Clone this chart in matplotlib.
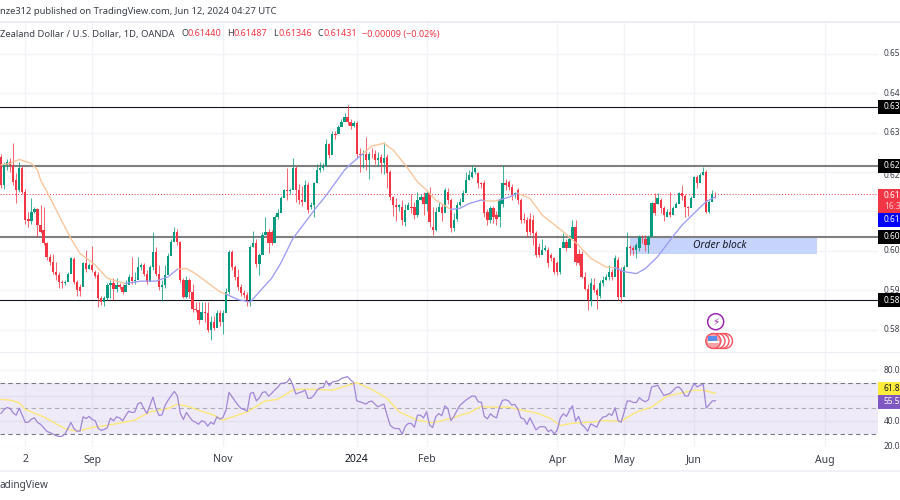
import matplotlib
matplotlib.use("Agg")
import matplotlib.pyplot as plt
from matplotlib.patches import Rectangle, Circle

plt.rcParams['font.family'] = ['Noto Sans', 'DejaVu Sans']

opens = [
.6239,.6167,.6218,.6226,.6218,.6180,.6154,.6209,.6150,.6080,
.6076,.6099,.6105,.6065,.6052,.6019,.5983,.5972,.5947,.5938,
.5921,.5917,.5921,.5942,.5978,.5921,.5909,.5909,.5968,.5955,
.5965,.5947,.5938,.5879,.5870,.5879,.5913,.5917,.5902,.5914,
.5909,.5896,.5913,.5934,.5924,.5925,.5959,.5965,.5942,.5921,
.5959,.5998,.5942,.5909,.5913,.5938,.5987,.6023,.6047,.6023,
.5925,.5883,.5925,.5896,.5852,.5849,.5824,.5845,.5841,.5798,
.5820,.5805,.5842,.5820,.5842,.5896,.5998,.5959,.5934,.5909,
.5892,.5887,.5875,.6009,.6020,.5966,.5989,.6040,.6048,.6048,
.6020,.6086,.6095,.6133,.6154,.6152,.6154,.6209,.6154,.6129,
.6125,.6167,.6112,.6116,.6171,.6205,.6209,.6216,.6271,.6243,
.6296,.6296,.6315,.6328,.6341,.6328,.6317,.6325,.6247,.6243,
.6246,.6230,.6247,.6247,.6230,.6239,.6222,.6239,.6201,.6137,
.6116,.6112,.6112,.6074,.6103,.6112,.6112,.6091,.6129,.6137,
.6120,.6146,.6061,.6053,.6099,.6112,.6095,.6150,.6129,.6057,
.6082,.6116,.6125,.6146,.6180,.6188,.6201,.6197,.6171,.6171,
.6099,.6078,.6108,.6091,.6086,.6120,.6173,.6175,.6163,.6141,
.6154,.6129,.6082,.6078,.6082,.6078,.6044,.6009,.5989,.6003,
.6003,.5989,.5981,.5968,.5947,.6006,.6023,.6006,.6031,.6061,
.5993,.5993,.5934,.5904,.5875,.5913,.5900,.5885,.5917,.5925,
.5934,.5947,.5934,.5976,.5951,.5883,.5959,.6009,.6006,.6002,
.6006,.6036,.6031,.6014,.6036,.6122,.6120,.6129,.6108,.6086,
.6099,.6091,.6108,.6120,.6146,.6139,.6112,.6108,.6133,.6188,
.6171,.6192,.6201,.6099,.6125,.6144]

closes = [
.6167,.6218,.6226,.6218,.6175,.6154,.6209,.6150,.6078,.6076,
.6099,.6105,.6065,.6048,.6019,.5983,.5972,.5947,.5938,.5921,
.5917,.5921,.5942,.5981,.5921,.5900,.5898,.5968,.5955,.5965,
.5951,.5936,.5879,.5870,.5879,.5913,.5917,.5902,.5914,.5909,
.5896,.5913,.5934,.5924,.5925,.5959,.5965,.5942,.5921,.5959,
.5998,.5942,.5909,.5913,.5938,.5987,.6023,.6047,.6023,.5925,
.5883,.5925,.5896,.5852,.5849,.5824,.5845,.5841,.5798,.5820,
.5805,.5842,.5820,.5842,.5896,.5998,.5959,.5934,.5909,.5892,
.5887,.5875,.6009,.6020,.5966,.5989,.6040,.6048,.6020,.6020,
.6086,.6095,.6133,.6154,.6152,.6154,.6209,.6154,.6129,.6125,
.6167,.6103,.6116,.6171,.6205,.6209,.6216,.6271,.6243,.6296,
.6295,.6315,.6328,.6341,.6328,.6317,.6325,.6247,.6243,.6246,
.6230,.6247,.6246,.6230,.6235,.6222,.6235,.6197,.6137,.6116,
.6112,.6116,.6078,.6103,.6116,.6108,.6091,.6129,.6137,.6120,
.6146,.6074,.6053,.6099,.6112,.6095,.6154,.6129,.6057,.6078,
.6116,.6125,.6146,.6180,.6192,.6201,.6209,.6171,.6170,.6095,
.6078,.6108,.6086,.6082,.6129,.6173,.6167,.6163,.6141,.6146,
.6129,.6078,.6078,.6048,.6048,.6044,.5989,.5989,.6003,.6006,
.5968,.5981,.5947,.5947,.6006,.6023,.6006,.6031,.6061,.5972,
.5970,.5934,.5904,.5875,.5917,.5900,.5887,.5917,.5925,.5934,
.5947,.5934,.5981,.5883,.5883,.5959,.6009,.6007,.6002,.6014,
.6036,.6034,.6014,.6036,.6122,.6095,.6133,.6108,.6091,.6099,
.6091,.6108,.6120,.6146,.6139,.6112,.6108,.6133,.6188,.6171,
.6192,.6201,.6099,.6125,.6144,.6143]

highs = [
.6247,.6225,.6232,.6235,.6273,.6197,.6225,.6215,.6158,.6099,
.6133,.6112,.6108,.6116,.6112,.6023,.5993,.5993,.5972,.5945,
.5925,.5925,.5945,.5985,.5985,.5925,.5915,.5972,.6003,.5970,
.6012,.5950,.5945,.5885,.5885,.5917,.5925,.5930,.5930,.5917,
.5915,.5925,.5940,.5985,.5945,.5985,.5970,.5970,.5950,.5965,
.6048,.6010,.5965,.5925,.5965,.5995,.6030,.6060,.6055,.6025,
.5930,.5935,.5930,.5915,.5870,.5870,.5870,.5870,.5870,.5835,
.5835,.5850,.5850,.5850,.5905,.6002,.6002,.5965,.5955,.5915,
.5900,.5895,.6015,.6050,.6030,.5995,.6048,.6085,.6055,.6052,
.6092,.6105,.6140,.6158,.6209,.6160,.6235,.6215,.6170,.6165,
.6180,.6175,.6125,.6175,.6220,.6225,.6222,.6283,.6275,.6305,
.6305,.6320,.6335,.6350,.6370,.6335,.6330,.6330,.6262,.6255,
.6290,.6250,.6260,.6255,.6250,.6245,.6277,.6245,.6205,.6140,
.6135,.6120,.6130,.6120,.6125,.6145,.6125,.6150,.6145,.6150,
.6152,.6163,.6110,.6110,.6125,.6120,.6160,.6160,.6135,.6095,
.6125,.6135,.6155,.6200,.6205,.6218,.6213,.6200,.6175,.6180,
.6105,.6115,.6115,.6100,.6135,.6218,.6182,.6180,.6170,.6150,
.6160,.6135,.6095,.6085,.6095,.6092,.6050,.6020,.6030,.6015,
.6010,.5995,.5985,.5975,.5960,.6044,.6030,.6040,.6078,.6078,
.6005,.6000,.5945,.5915,.5930,.5932,.5905,.5925,.5935,.5940,
.5965,.5955,.5990,.5985,.5960,.5965,.6048,.6015,.6012,.6020,
.6040,.6040,.6040,.6040,.6125,.6146,.6146,.6135,.6115,.6105,
.6150,.6115,.6125,.6150,.6167,.6145,.6115,.6140,.6190,.6192,
.6198,.6213,.6205,.6130,.6155,.6149]

lows = [
.6160,.6158,.6205,.6200,.6168,.6122,.6150,.6145,.6069,.6060,
.6069,.6095,.6036,.6044,.6014,.5976,.5965,.5942,.5925,.5905,
.5905,.5912,.5935,.5960,.5915,.5885,.5885,.5955,.5945,.5955,
.5945,.5930,.5858,.5862,.5860,.5875,.5880,.5875,.5895,.5902,
.5890,.5900,.5925,.5915,.5915,.5950,.5950,.5935,.5915,.5950,
.5950,.5935,.5900,.5872,.5905,.5980,.6018,.6040,.6015,.5920,
.5880,.5880,.5880,.5845,.5845,.5815,.5830,.5820,.5795,.5773,
.5800,.5835,.5810,.5788,.5885,.5890,.5950,.5925,.5900,.5885,
.5880,.5860,.5860,.6010,.5960,.5938,.6030,.6040,.5995,.6015,
.6080,.6080,.6125,.6145,.6130,.6145,.6195,.6125,.6120,.6115,
.6135,.6095,.6105,.6085,.6195,.6200,.6205,.6260,.6235,.6285,
.6285,.6305,.6320,.6335,.6320,.6310,.6315,.6235,.6200,.6210,
.6205,.6182,.6235,.6220,.6215,.6197,.6195,.6160,.6130,.6088,
.6075,.6100,.6065,.6063,.6105,.6095,.6080,.6085,.6130,.6090,
.6100,.6060,.6040,.6050,.6100,.6075,.6145,.6120,.6048,.6050,
.6075,.6115,.6135,.6170,.6180,.6185,.6195,.6160,.6160,.6085,
.6065,.6070,.6070,.6065,.6060,.6110,.6155,.6155,.6130,.6135,
.6120,.6070,.6070,.6035,.6040,.6014,.5985,.5985,.5995,.6000,
.5959,.5975,.5940,.5938,.5940,.6015,.6000,.6025,.6050,.5965,
.5965,.5930,.5900,.5850,.5860,.5895,.5851,.5880,.5910,.5925,
.5925,.5925,.5975,.5875,.5870,.5950,.6000,.5990,.5990,.5981,
.6000,.6020,.5999,.5995,.6115,.6090,.6120,.6095,.6075,.6090,
.6085,.6095,.6110,.6135,.6130,.6085,.6088,.6125,.6175,.6160,
.6175,.6192,.6095,.6095,.6130,.6135]

# moving average per coloured stretch (bar number, price)
ma_above = [  # orange stretches
 ([0,3,6,10,12,13,16,19,23,26,29,31,35,38,41],
  [.6218,.6222,.6232,.6222,.6205,.6180,.6137,.6091,.6031,.5993,.5976,.5964,.5930,.5923,.5917]),
 ([58,61,64,69,72,74],[.5953,.5955,.5942,.5913,.5896,.5890]),
 ([119,122,126,129,133,137,140,143,148],[.6246,.6266,.6273,.6256,.6218,.6175,.6154,.6129,.6105]),
 ([159,162,164],[.6127,.6126,.6129]),
 ([170,174,178,185,190,194,199,202],[.6146,.6133,.6091,.6048,.6014,.5981,.5959,.5957]),
]
ma_below = [  # blue stretches
 ([41,46,51,55,58],[.5917,.5923,.5923,.5934,.5953]),
 ([74,78,82,85,89,92,96,101,103,107,113,115,119],
  [.5890,.5876,.5870,.5896,.5930,.5968,.6031,.6082,.6103,.6141,.6205,.6220,.6246]),
 ([148,151,154,158,159],[.6105,.6108,.6120,.6129,.6127]),
 ([164,167,170],[.6129,.6136,.6146]),
 ([202,205,209,212,216,221,224,229,232,235],[.5957,.5947,.5942,.5955,.5985,.6036,.6065,.6103,.6125,.6137]),
]

rsi = [
46.0,49.1,50.7,49.9,46.5,44.7,50.2,44.7,39.0,39.2,
41.6,42.6,39.0,37.6,35.0,32.2,31.1,30.1,28.8,28.0,
28.2,29.8,34.2,39.0,34.2,32.2,32.2,43.4,42.1,43.7,
41.3,40.3,34.2,32.9,33.5,35.0,42.4,40.3,43.4,42.6,
40.3,44.2,47.8,46.8,47.1,53.6,54.6,49.9,46.0,52.5,
58.8,49.9,44.4,45.0,52.5,56.5,59.9,63.3,59.9,46.0,
41.3,46.8,43.4,40.3,39.2,37.6,40.3,39.5,36.1,39.2,
37.6,43.4,41.6,42.9,48.6,62.5,59.1,55.7,52.5,49.9,
49.1,47.8,61.7,62.5,55.9,58.3,62.5,63.0,59.6,61.7,
64.3,66.4,69.5,69.8,70.3,73.5,68.2,61.2,62.2,63.0,
64.3,57.8,58.0,60.4,64.3,66.1,66.4,71.6,67.7,70.6,
71.1,71.6,73.5,74.2,74.8,72.2,70.3,55.9,55.2,54.4,
53.3,55.2,55.7,53.3,51.2,52.5,53.3,44.7,36.9,34.8,
34.2,34.2,29.8,36.1,38.2,38.2,35.3,44.7,44.7,42.6,
47.3,36.9,35.0,43.4,46.0,44.2,52.0,49.9,
40.5,43.7,48.4,52.4,54.5,56.6,58.1,59.7,59.5,55.2,
54.7,43.7,41.8,45.8,43.7,42.6,51.0,56.3,56.8,55.8,
52.6,53.1,49.7,42.6,41.8,37.4,42.6,37.9,33.2,35.3,
35.8,35.5,31.8,33.2,30.0,33.2,42.6,45.8,43.7,48.4,
52.1,40.0,43.7,37.4,35.3,32.1,37.9,36.6,35.3,40.5,
43.2,43.7,45.8,44.5,50.5,40.5,39.2,47.1,55.8,55.8,
54.7,54.5,58.4,56.3,55.2,56.8,66.8,67.3,68.1,64.2,
60.2,60.8,61.6,63.7,66.3,66.8,64.2,59.7,59.7,64.7,
69.5,66.8,68.1,68.7,50.3,53.1,55.8,56.0]

rsi_ma_bars = [0,3,6,8,14,21,25,30,37,44,49,55,58,62,65,70,73,81,87,91,96,99,109,117,122,127,131,137,142,148,
               151,154,158,160,167,173,177,181,184,188,194,198,204,209,214,219,223,228,231,235]
rsi_ma_vals = [57.0,56.5,54.4,49.1,43.4,34.2,32.2,35.0,37.6,40.8,47.3,49.9,53.3,51.2,48.6,44.7,40.8,47.3,55.9,57.0,
               64.3,65.1,64.3,70.1,64.8,57.8,47.3,40.8,38.7,42.1,
               44.5,46.6,51.6,51.0,51.0,47.9,45.8,41.8,36.6,38.4,39.2,40.5,40.0,47.1,51.0,59.5,61.6,64.2,64.2,61.8]

price_ticks = [0.65, 0.64, 0.63, 0.62, 0.61, 0.60, 0.59, 0.58]
price_tick_labels = ["0.65", "0.64", "0.63", "0.62", "", "0.60", "0.59", "0.58"]
rsi_ticks = [80, 60, 40, 20]
rsi_tick_labels = ["80.0", "", "40.0", "20.0"]
time_ticks = [8, 30, 73, 117, 140, 183, 205, 228, 271]
time_labels = ["2", "Sep", "Nov", "2024", "Feb", "Apr", "May", "Jun", "Aug"]
levels = [0.6366, 0.6216, 0.6036, 0.5875]
level_labels = ["0.63", "0.62", "0.60", "0.58"]
level_styles = [("#131722", 0.8), ("#7f7f7f", 1.5), ("#7f7f7f", 1.5), ("#131722", 0.8)]
order_block = (207, 268.4, 0.5991, 0.6036)

GREEN = "#089981"; RED = "#F23645"; GRID = "#F1F3F9"; INK = "#3b3f4a"

fig = plt.figure(figsize=(9, 5), dpi=100, facecolor="white")
W, H = 900.0, 500.0
def pane(x0, y0, x1, y1):
    return fig.add_axes([x0/W, 1-y1/H, (x1-x0)/W, (y1-y0)/H])

xlim = (-0.33, 288.5)
ax = pane(0, 22, 878, 352)
ax.set_xlim(*xlim); ax.set_ylim(0.5743, 0.6581)
ax.set_xticks(time_ticks); ax.set_yticks(price_ticks)
ax.grid(True, color=GRID, lw=1); ax.set_axisbelow(True)
ax.tick_params(length=0, labelbottom=False, labelleft=False)
for s in ax.spines.values(): s.set_visible(False)

bars = range(len(closes))
cols = [GREEN if c >= o else RED for o, c in zip(opens, closes)]
ax.add_patch(Rectangle((order_block[0], order_block[2]), order_block[1]-order_block[0],
                       order_block[3]-order_block[2], fc="#C6D4FC", ec="none", zorder=1))
for y, (c, w) in zip(levels, level_styles):
    ax.axhline(y, color=c, lw=w, zorder=2)
ax.axhline(closes[-1], color=RED, lw=0.7, ls=(0, (1, 2)), zorder=2)
ax.vlines(list(bars), lows, highs, colors=cols, lw=0.75, alpha=0.75, zorder=3)
ax.bar(list(bars), [abs(c-o) for o, c in zip(opens, closes)], bottom=[min(o, c) for o, c in zip(opens, closes)],
       width=0.75, color=cols, lw=0, zorder=4)
for bx, by in ma_above:
    ax.plot(bx, by, color="#FBC498", lw=0.95, zorder=5, solid_joinstyle="round")
for bx, by in ma_below:
    ax.plot(bx, by, color="#9C9CF4", lw=0.95, zorder=5, solid_joinstyle="round")
ax.text(236.5, (order_block[2]+order_block[3])/2-0.00005, "Order block",
        style="italic", fontsize=7.4, color="#131722", ha="center", va="center", zorder=6)

ar = pane(0, 352, 878, 447)
ar.set_xlim(*xlim); ar.set_ylim(19.8, 94.1)
ar.set_xticks(time_ticks); ar.set_yticks(rsi_ticks)
ar.grid(True, color=GRID, lw=1); ar.set_axisbelow(True)
ar.tick_params(length=0, labelbottom=False, labelleft=False)
for s in ar.spines.values(): s.set_visible(False)
ar.axhspan(30, 70, fc="#7E57C2", alpha=0.12, lw=0, zorder=1)
for y in (70, 50, 30):
    ar.axhline(y, color="#787B86", lw=0.8, ls=(0, (4, 3)), alpha=1 if y != 50 else 0.55, zorder=2)
ar.plot(rsi_ma_bars, rsi_ma_vals, color="#FBE878", lw=1.0, zorder=3)
ar.plot(list(bars), rsi, color="#A086D6", lw=0.9, zorder=4)

# overlay in image pixels for the frame, price labels and header
ov = fig.add_axes([0, 0, 1, 1], zorder=10)
ov.set_xlim(0, W); ov.set_ylim(H, 0); ov.axis("off"); ov.patch.set_alpha(0)
for y, w in ((22, 2), (352, 1.2), (471, 1.5)):
    ov.plot([0, W], [y, y], color="#ECEDF5", lw=w*0.72)

def y_main(v):  # price -> overlay pixel row
    return 22 + (0.6581 - v) / (0.6581 - 0.5743) * 330
def y_rsi(v):
    return 352 + (94.1 - v) / (94.1 - 19.8) * 95

LX = 884
LAB = dict(ha="left", va="center", fontsize=6.0)
for v, s in zip(price_ticks, price_tick_labels):
    if s:
        ov.text(LX, y_main(v) + (3 if s == "0.62" else 0), s, color=INK, zorder=1, **LAB)
for v, s in zip(rsi_ticks, rsi_tick_labels):
    if s:
        ov.text(LX, y_rsi(v), s, color=INK, zorder=1, **LAB)

def box(y0, y1, col):
    ov.add_patch(Rectangle((878, y0), 22, y1-y0, fc=col, ec="none", zorder=3))

for v, s in zip(levels, level_labels):
    box(y_main(v)-7, y_main(v)+7, "#000000")
    ov.text(LX, y_main(v), s, color="white", zorder=4, **LAB)
box(188.5, 213, RED)
ov.text(LX, 195.5, "0.61", color="white", zorder=4, **LAB)
ov.text(LX, 206.5, "16:3", color="#FFC9CE", zorder=4, **LAB)
box(213, 227, "#0000FF")
ov.text(LX, 220, "0.61", color="white", zorder=4, **LAB)
box(381.7, 395, "#FFEB3B")
ov.text(LX, 388.5, "61.8", color="#131722", zorder=4, **LAB)
box(395, 408.5, "#7E57C2")
ov.text(LX, 402, "55.5", color="white", zorder=4, **LAB)

for t, lab in zip(time_ticks, time_labels):
    px = (t - xlim[0]) / (xlim[1] - xlim[0]) * 878
    ov.text(px, 460, lab, ha="center", va="center", fontsize=7.5, color="#131722" if lab == "2024" else INK,
            fontweight="bold" if lab == "2024" else "normal")

ov.text(0, 12, "nze312 published on TradingView.com, Jun 12, 2024 04:27 UTC", fontsize=6.8, color=INK, ha="left", va="center")
ov.text(0, 34, "Zealand Dollar / U.S. Dollar, 1D, OANDA", fontsize=6.8, color=INK, ha="left", va="center")
for x, s, c in ((181, "O", INK), (188, "0.61440", RED), (227, "H", INK), (234, "0.61487", RED),
                (273, "L", INK), (278.5, "0.61346", RED), (317, "C", INK), (324, "0.61431", RED),
                (362, "\u22120.00009 (\u22120.02%)", RED)):
    ov.text(x, 34, s, fontsize=6.5, color=c, ha="left", va="center")
ov.text(0, 485.5, "adingView", fontsize=7.2, color=INK, ha="left", va="center")

# event icons
ov.add_patch(Circle((715.7, 321.7), 8, fc="white", ec="#9C27B0", lw=1.1))
ov.text(715.7, 321.7, "\u26A1", fontsize=7.5, color="#9C27B0", ha="center", va="center", family="DejaVu Sans")
for cx in (725, 721.5, 717.5):
    ov.add_patch(Circle((cx, 341), 7.5, fc="white", ec="#F7525F", lw=1.0))
ov.add_patch(Circle((713.3, 341), 7.5, fc="#F7A1A8", ec="#F7525F", lw=1.0))
ov.add_patch(Rectangle((707.5, 341), 11.5, 1.6, fc="white", ec="none"))
ov.add_patch(Rectangle((708, 336), 8.5, 5, fc="#5B8DEF", ec="none"))

fig.savefig("out.png", dpi=100)
